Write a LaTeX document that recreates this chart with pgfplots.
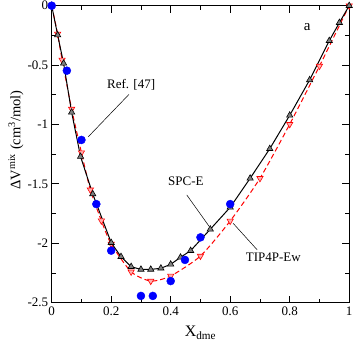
\documentclass[border=0pt]{standalone}
\usepackage{pgfplots}
\pgfplotsset{compat=1.18}
\usepackage{fontspec}
\setmainfont{Liberation Serif}
\definecolor{tipfill}{HTML}{FFB0B0}
\definecolor{spcfill}{HTML}{808080}
\begin{document}
\begin{tikzpicture}
\begin{axis}[name=ax, scale only axis, width=297.5pt, height=297pt,
  xmin=0, xmax=1, ymin=-2.5, ymax=0,
  xtick={0,0.2,0.4,0.6,0.8,1}, xticklabels={0,0.2,0.4,0.6,0.8,1}, minor x tick num=1,
  ytick={-2.5,-2,-1.5,-1,-0.5,0}, yticklabels={-2.5,-2,-1.5,-1,-0.5,0}, minor y tick num=1,
  tick align=inside, major tick length=7pt, minor tick length=4pt,
  ticklabel style={font=\fontsize{13}{13}\selectfont},
  xticklabel style={yshift=-1pt},
  axis line style={line width=0.9pt},
  every tick/.style={black, line width=0.8pt},
  clip=false,
  xlabel={X\textsubscript{dme}},
  xlabel style={font=\fontsize{16}{16}\selectfont, at={(axis description cs:0.5,0)}, anchor=base, yshift=-34pt},
  ylabel={ΔV\textsuperscript{mix} (cm\textsuperscript{3}/mol)},
  ylabel style={font=\fontsize{14.5}{14.5}\selectfont, at={(axis description cs:-0.12,0.548)}, anchor=center},
]
% TIP4P-Ew
\addplot[red, line width=1pt, dash pattern=on 5pt off 3pt, smooth, tension=0.4,
  mark=triangle*, mark size=3.6pt, mark options={rotate=180, solid, fill=tipfill, draw=red, line width=0.6pt}]
coordinates {
(0,0) (0.02,-0.238) (0.035,-0.457) (0.067,-0.87) (0.1,-1.237) (0.13,-1.55)
(0.167,-1.81) (0.2,-2.006) (0.267,-2.24) (0.333,-2.318) (0.4,-2.275)
(0.5,-2.107) (0.6,-1.812) (0.7,-1.453) (0.8,-0.998) (0.9,-0.508) (1,0)
};
% SPC-E
\addplot[black, line width=1pt,
  mark=triangle*, mark size=3.6pt, mark options={fill=spcfill, draw=black, line width=0.6pt}]
coordinates {
(0,0) (0.02,-0.247) (0.04,-0.485) (0.067,-0.897) (0.097,-1.27) (0.138,-1.585)
(0.2,-1.995) (0.233,-2.113) (0.267,-2.197) (0.3,-2.22) (0.333,-2.22) (0.367,-2.21)
(0.4,-2.177) (0.433,-2.118) (0.467,-2.062) (0.533,-1.882) (0.6,-1.697) (0.667,-1.453)
(0.733,-1.204) (0.8,-0.923) (0.867,-0.625) (0.933,-0.295) (0.967,-0.143) (1,0)
};
% Ref. [47]
\addplot[only marks, mark=*, mark size=4pt, mark options={fill=blue, draw=blue}]
coordinates {
(0,0) (0.051,-0.547) (0.1,-1.13) (0.15,-1.67) (0.2,-2.062) (0.3,-2.443)
(0.34,-2.443) (0.4,-2.318) (0.448,-2.14) (0.5,-1.95) (0.6,-1.67)
};
\draw[black, line width=0.5pt] (axis cs:0.26,-0.746) -- (axis cs:0.123,-1.103);
\draw[black, line width=0.5pt] (axis cs:0.454,-1.593) -- (axis cs:0.53,-1.86);
\draw[black, line width=0.5pt] (axis cs:0.691,-2.056) -- (axis cs:0.61,-1.832);
\node[font=\fontsize{13}{13}\selectfont] at (axis cs:0.267,-0.667) {Ref. [47]};
\node[font=\fontsize{13}{13}\selectfont] at (axis cs:0.451,-1.481) {SPC-E};
\node[font=\fontsize{13}{13}\selectfont] at (axis cs:0.745,-2.118) {TIP4P-Ew};
\node[font=\fontsize{15}{15}\selectfont] at (axis cs:0.859,-0.177) {a};
\end{axis}
\pgfresetboundingbox
\path ([shift={(-51.7pt,-38.3pt)}]ax.south west) rectangle ([shift={(4.8pt,5.7pt)}]ax.north east);
\end{tikzpicture}
\end{document}
